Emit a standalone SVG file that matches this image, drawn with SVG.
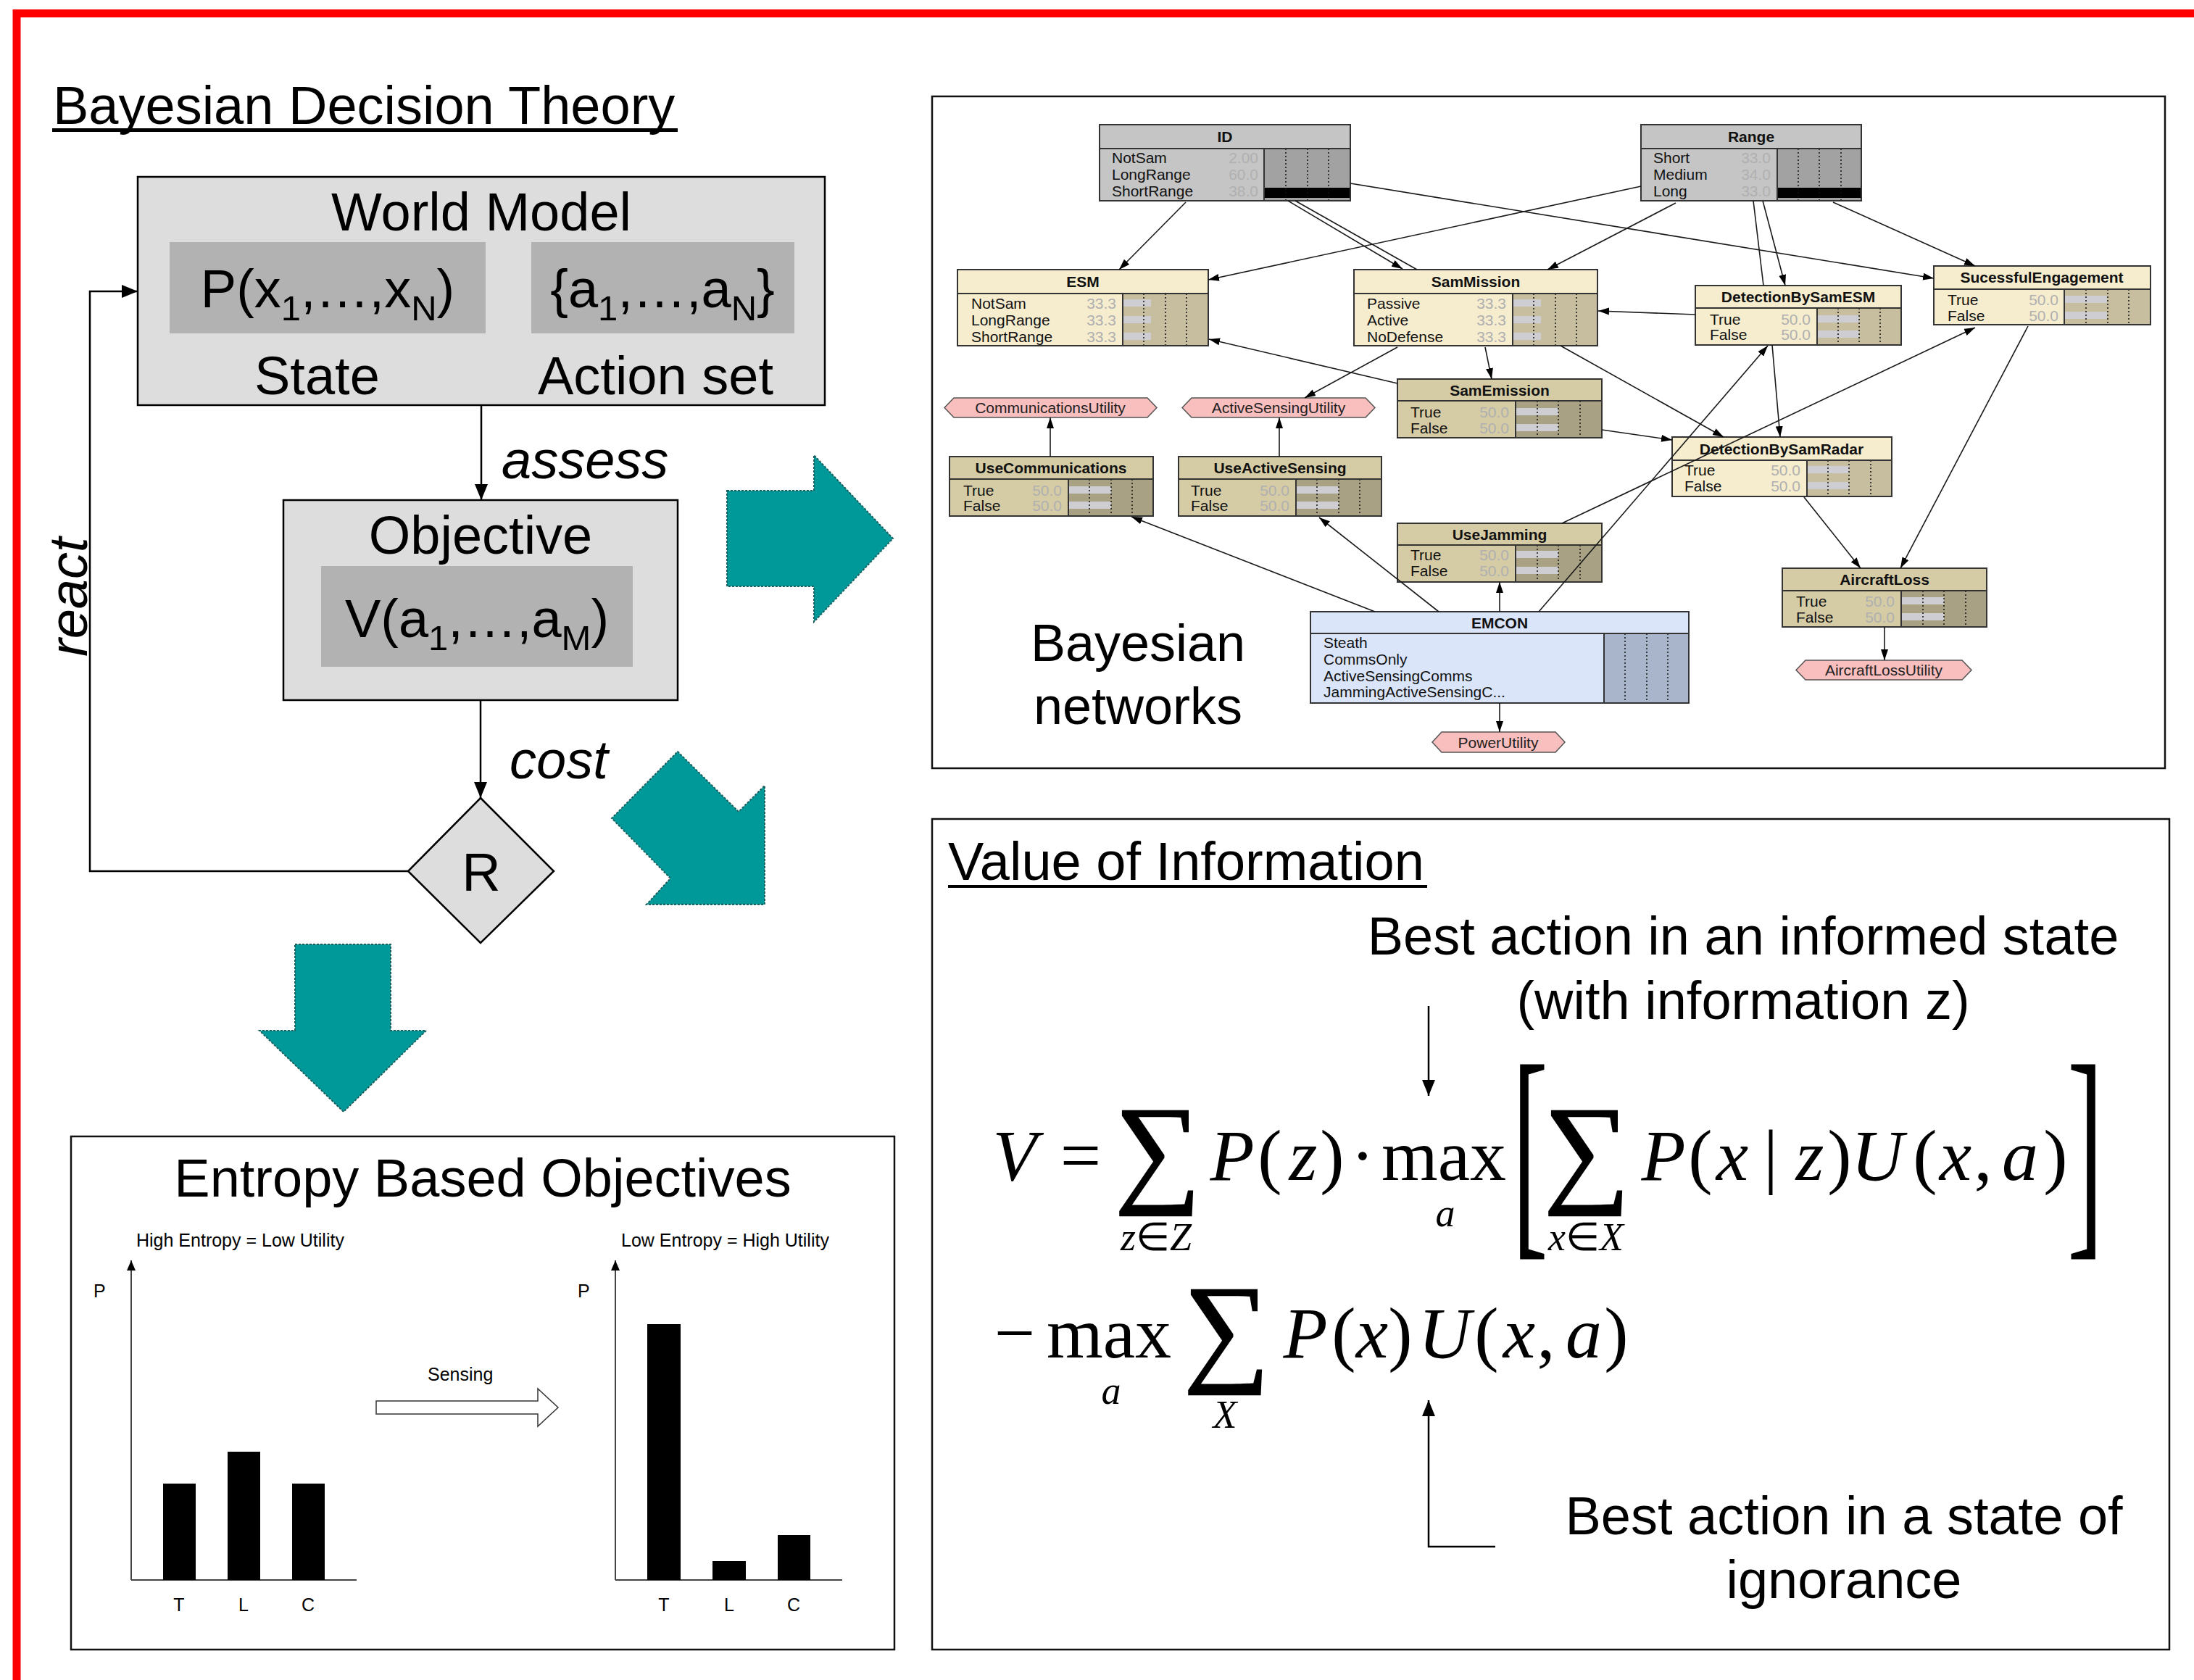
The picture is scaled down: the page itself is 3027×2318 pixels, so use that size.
<svg xmlns="http://www.w3.org/2000/svg" width="3027" height="2318" viewBox="0 0 3027 2318">
<defs>
<style>
.t74{font-family:"Liberation Sans",Arial,sans-serif;font-size:74px;fill:#000}
.it{font-style:italic}
.box{fill:#DDDDDD;stroke:#000;stroke-width:2.5}
.inner{fill:#B2B2B2}
.flow{fill:none;stroke:#000;stroke-width:2.5}
.teal{fill:#009999;stroke:#1b5e5e;stroke-width:2;stroke-dasharray:3 2}
.panel{fill:#fff;stroke:#111;stroke-width:2.5}
.s25{font-family:"Liberation Sans",Arial,sans-serif;font-size:25px;fill:#000}
.axis{stroke:#444;stroke-width:2;fill:none}
.nb{fill:none;stroke:#333;stroke-width:2}
.sep{stroke:#333;stroke-width:2}
.gry{fill:#C5C5C5}.bgry{fill:#A2A2A2}
.crm{fill:#F6EDCF}.bcrm{fill:#C6BE9E}
.khk{fill:#D5CCA6}.bkhk{fill:#A8A183}
.blu{fill:#DAE5F9}.bblu{fill:#A9B5CB}
.bar{fill:#CDCDD2}
.dot{stroke:#111;stroke-width:1.5;stroke-dasharray:2 3}
.nt{font-family:"Liberation Sans",Arial,sans-serif;font-weight:bold;font-size:21px;text-anchor:middle;fill:#111}
.rl{font-family:"Liberation Sans",Arial,sans-serif;font-size:21px;fill:#111}
.rv{font-family:"Liberation Sans",Arial,sans-serif;font-size:21px;fill:#B0B0B0;text-anchor:end}
.util{fill:#F9BEBE;stroke:#555;stroke-width:1.5}
.ut{font-family:"Liberation Sans",Arial,sans-serif;font-size:21px;text-anchor:middle;fill:#222}
.edge{stroke:#1a1a1a;stroke-width:1.6;fill:none}
.m{font-family:"Liberation Serif","Times New Roman",serif;font-size:100px;text-anchor:middle;fill:#000}
.mi{font-family:"Liberation Serif","Times New Roman",serif;font-size:100px;font-style:italic;text-anchor:middle;fill:#000}
.ms{font-family:"Liberation Serif","Times New Roman",serif;font-size:54px;font-style:italic;text-anchor:middle;fill:#000}
.sig{font-family:"Liberation Serif","Times New Roman",serif;font-size:167px;text-anchor:middle;fill:#000;stroke:#000;stroke-width:2}
.brk{font-family:"Liberation Serif","Times New Roman",serif;font-size:325px;text-anchor:middle;fill:#000}
</style>
<marker id="ahL" markerUnits="userSpaceOnUse" markerWidth="24" markerHeight="20" refX="22" refY="9" orient="auto"><path d="M0,0 L22,9 L0,18 z" fill="#000"/></marker>
<marker id="ahN" markerUnits="userSpaceOnUse" markerWidth="16" markerHeight="12" refX="15" refY="5" orient="auto"><path d="M0,0 L15,5 L0,10 z" fill="#000"/></marker>
<marker id="ahC" markerUnits="userSpaceOnUse" markerWidth="16" markerHeight="14" refX="14" refY="6" orient="auto"><path d="M0,0 L14,6 L0,12 z" fill="#000"/></marker>
</defs>
<rect width="3027" height="2318" fill="#fff"/>
<path d="M23,2318 V18.5 H3027" fill="none" stroke="#FF0000" stroke-width="11"/>

<!-- Left: Bayesian Decision Theory -->
<g id="title-bdt">
<text class="t74" x="73" y="171">Bayesian Decision Theory</text>
<rect x="72" y="177" width="863" height="5" fill="#000"/>
</g>
<g id="world-model">
<rect class="box" x="190" y="244" width="948" height="315"/>
<text class="t74" x="664" y="318" text-anchor="middle">World Model</text>
<rect class="inner" x="234" y="334" width="436" height="126"/>
<rect class="inner" x="733" y="334" width="363" height="126"/>
<text class="t74" x="452" y="424" text-anchor="middle">P(x<tspan font-size="49" dy="18">1</tspan><tspan dy="-18">,…,x</tspan><tspan font-size="49" dy="18">N</tspan><tspan dy="-18">)</tspan></text>
<text class="t74" x="914" y="424" text-anchor="middle">{a<tspan font-size="49" dy="18">1</tspan><tspan dy="-18">,…,a</tspan><tspan font-size="49" dy="18">N</tspan><tspan dy="-18">}</tspan></text>
<text class="t74" x="351" y="544">State</text>
<text class="t74" x="742" y="544">Action set</text>
</g>
<g id="objective">
<rect class="box" x="391" y="690" width="544" height="276"/>
<text class="t74" x="663" y="764" text-anchor="middle">Objective</text>
<rect class="inner" x="443" y="781" width="430" height="139"/>
<text class="t74" x="658" y="879" text-anchor="middle">V(a<tspan font-size="49" dy="18">1</tspan><tspan dy="-18">,…,a</tspan><tspan font-size="49" dy="18">M</tspan><tspan dy="-18">)</tspan></text>
</g>
<g id="reward">
<polygon points="663,1101 764,1202 663,1301 563,1202" fill="#DDDDDD" stroke="#000" stroke-width="2.5"/>
<text class="t74" x="664" y="1229" text-anchor="middle">R</text>
</g>
<g id="flow-connectors">
<line class="flow" x1="664" y1="559" x2="664" y2="690" marker-end="url(#ahL)"/>
<line class="flow" x1="663" y1="966" x2="663" y2="1101" marker-end="url(#ahL)"/>
<polyline class="flow" points="563,1202 124,1202 124,402 190,402" marker-end="url(#ahL)"/>
<text class="t74 it" x="692" y="660">assess</text>
<text class="t74 it" x="703" y="1074">cost</text>
<text class="t74 it" transform="translate(120,906) rotate(-90)">react</text>
</g>
<g id="teal-arrows">
<polygon class="teal" points="1003,677 1123,677 1123,628 1232,743 1123,858 1123,809 1003,809"/>
<polygon class="teal" points="935,1037 1019,1120 1055,1084 1055,1248 892,1248 925,1212 844,1129"/>
<polygon class="teal" points="407,1303 539,1303 539,1422 588,1422 474,1534 358,1422 407,1422"/>
</g>

<!-- Entropy panel -->
<g id="entropy-panel">
<rect class="panel" x="98" y="1568" width="1136" height="708"/>
<text class="t74" x="666" y="1651" text-anchor="middle">Entropy Based Objectives</text>
<text class="s25" x="188" y="1720">High Entropy = Low Utility</text>
<text class="s25" x="857" y="1720">Low Entropy = High Utility</text>
<text class="s25" x="129" y="1790">P</text>
<text class="s25" x="797" y="1790">P</text>
<line class="axis" x1="181" y1="2180" x2="181" y2="1739" marker-end="url(#ahC)"/>
<line class="axis" x1="181" y1="2180" x2="492" y2="2180"/>
<line class="axis" x1="849" y1="2180" x2="849" y2="1739" marker-end="url(#ahC)"/>
<line class="axis" x1="849" y1="2180" x2="1162" y2="2180"/>
<rect x="225" y="2047" width="45" height="133" fill="#000"/>
<rect x="314" y="2003" width="45" height="177" fill="#000"/>
<rect x="403" y="2047" width="45" height="133" fill="#000"/>
<rect x="893" y="1827" width="46" height="353" fill="#000"/>
<rect x="983" y="2154" width="46" height="26" fill="#000"/>
<rect x="1073" y="2118" width="45" height="62" fill="#000"/>
<text class="s25" x="247" y="2223" text-anchor="middle">T</text>
<text class="s25" x="336" y="2223" text-anchor="middle">L</text>
<text class="s25" x="425" y="2223" text-anchor="middle">C</text>
<text class="s25" x="916" y="2223" text-anchor="middle">T</text>
<text class="s25" x="1006" y="2223" text-anchor="middle">L</text>
<text class="s25" x="1095" y="2223" text-anchor="middle">C</text>
<polygon points="519,1933 742,1933 742,1916 770,1942 742,1968 742,1951 519,1951" fill="#fff" stroke="#333" stroke-width="1.5"/>
<text class="s25" x="590" y="1905">Sensing</text>
</g>

<!-- Bayesian network panel -->
<rect class="panel" x="1286" y="133" width="1701" height="927"/>
<text class="t74" x="1570" y="912" text-anchor="middle" style="font-size:72px">Bayesian</text>
<text class="t74" x="1570" y="999" text-anchor="middle" style="font-size:72px">networks</text>

<g id="n-ID">
<rect class="gry" x="1517" y="172" width="346" height="105"/>
<rect class="bgry" x="1744" y="205" width="119" height="72"/>
<rect x="1744" y="259" width="119" height="14" fill="#000"/>
<line class="dot" x1="1774" y1="205" x2="1774" y2="277"/><line class="dot" x1="1804" y1="205" x2="1804" y2="277"/><line class="dot" x1="1833" y1="205" x2="1833" y2="277"/>
<line class="sep" x1="1517" y1="205" x2="1863" y2="205"/><line class="sep" x1="1744" y1="205" x2="1744" y2="277"/>
<rect class="nb" x="1517" y="172" width="346" height="105"/>
<text class="nt" x="1690" y="196">ID</text>
<text class="rl" x="1534" y="225">NotSam</text><text class="rv" x="1736" y="225">2.00</text>
<text class="rl" x="1534" y="248">LongRange</text><text class="rv" x="1736" y="248">60.0</text>
<text class="rl" x="1534" y="271">ShortRange</text><text class="rv" x="1736" y="271">38.0</text>
</g>
<g id="n-Range">
<rect class="gry" x="2264" y="172" width="304" height="105"/>
<rect class="bgry" x="2452" y="205" width="116" height="72"/>
<rect x="2452" y="259" width="116" height="14" fill="#000"/>
<line class="dot" x1="2481" y1="205" x2="2481" y2="277"/><line class="dot" x1="2510" y1="205" x2="2510" y2="277"/><line class="dot" x1="2540" y1="205" x2="2540" y2="277"/>
<line class="sep" x1="2264" y1="205" x2="2568" y2="205"/><line class="sep" x1="2452" y1="205" x2="2452" y2="277"/>
<rect class="nb" x="2264" y="172" width="304" height="105"/>
<text class="nt" x="2416" y="196">Range</text>
<text class="rl" x="2281" y="225">Short</text><text class="rv" x="2443" y="225">33.0</text>
<text class="rl" x="2281" y="248">Medium</text><text class="rv" x="2443" y="248">34.0</text>
<text class="rl" x="2281" y="271">Long</text><text class="rv" x="2443" y="271">33.0</text>
</g>
<g id="n-ESM">
<rect class="crm" x="1321" y="372" width="346" height="105"/>
<rect class="bcrm" x="1549" y="405" width="118" height="72"/>
<rect class="bar" x="1549" y="413" width="39" height="10"/><rect class="bar" x="1549" y="436" width="39" height="10"/><rect class="bar" x="1549" y="459" width="39" height="10"/>
<line class="dot" x1="1578" y1="405" x2="1578" y2="477"/><line class="dot" x1="1608" y1="405" x2="1608" y2="477"/><line class="dot" x1="1637" y1="405" x2="1637" y2="477"/>
<line class="sep" x1="1321" y1="405" x2="1667" y2="405"/><line class="sep" x1="1549" y1="405" x2="1549" y2="477"/>
<rect class="nb" x="1321" y="372" width="346" height="105"/>
<text class="nt" x="1494" y="396">ESM</text>
<text class="rl" x="1340" y="426">NotSam</text><text class="rv" x="1540" y="426">33.3</text>
<text class="rl" x="1340" y="449">LongRange</text><text class="rv" x="1540" y="449">33.3</text>
<text class="rl" x="1340" y="472">ShortRange</text><text class="rv" x="1540" y="472">33.3</text>
</g>
<g id="n-SamMission">
<rect class="crm" x="1868" y="372" width="336" height="105"/>
<rect class="bcrm" x="2087" y="405" width="117" height="72"/>
<rect class="bar" x="2087" y="413" width="39" height="10"/><rect class="bar" x="2087" y="436" width="39" height="10"/><rect class="bar" x="2087" y="459" width="39" height="10"/>
<line class="dot" x1="2116" y1="405" x2="2116" y2="477"/><line class="dot" x1="2146" y1="405" x2="2146" y2="477"/><line class="dot" x1="2175" y1="405" x2="2175" y2="477"/>
<line class="sep" x1="1868" y1="405" x2="2204" y2="405"/><line class="sep" x1="2087" y1="405" x2="2087" y2="477"/>
<rect class="nb" x="1868" y="372" width="336" height="105"/>
<text class="nt" x="2036" y="396">SamMission</text>
<text class="rl" x="1886" y="426">Passive</text><text class="rv" x="2078" y="426">33.3</text>
<text class="rl" x="1886" y="449">Active</text><text class="rv" x="2078" y="449">33.3</text>
<text class="rl" x="1886" y="472">NoDefense</text><text class="rv" x="2078" y="472">33.3</text>
</g>
<g id="n-DetectionBySamESM">
<rect class="crm" x="2339" y="394" width="284" height="82"/>
<rect class="bcrm" x="2507" y="425" width="116" height="51"/>
<rect class="bar" x="2507" y="435" width="58" height="10"/><rect class="bar" x="2507" y="456" width="58" height="10"/>
<line class="dot" x1="2536" y1="425" x2="2536" y2="476"/><line class="dot" x1="2565" y1="425" x2="2565" y2="476"/><line class="dot" x1="2594" y1="425" x2="2594" y2="476"/>
<line class="sep" x1="2339" y1="425" x2="2623" y2="425"/><line class="sep" x1="2507" y1="425" x2="2507" y2="476"/>
<rect class="nb" x="2339" y="394" width="284" height="82"/>
<text class="nt" x="2481" y="417">DetectionBySamESM</text>
<text class="rl" x="2359" y="448">True</text><text class="rv" x="2498" y="448">50.0</text>
<text class="rl" x="2359" y="469">False</text><text class="rv" x="2498" y="469">50.0</text>
</g>
<g id="n-SucessfulEngagement">
<rect class="crm" x="2668" y="367" width="299" height="81"/>
<rect class="bcrm" x="2848" y="399" width="119" height="49"/>
<rect class="bar" x="2848" y="408" width="59" height="10"/><rect class="bar" x="2848" y="430" width="59" height="10"/>
<line class="dot" x1="2878" y1="399" x2="2878" y2="448"/><line class="dot" x1="2908" y1="399" x2="2908" y2="448"/><line class="dot" x1="2937" y1="399" x2="2937" y2="448"/>
<line class="sep" x1="2668" y1="399" x2="2967" y2="399"/><line class="sep" x1="2848" y1="399" x2="2848" y2="448"/>
<rect class="nb" x="2668" y="367" width="299" height="81"/>
<text class="nt" x="2817" y="390">SucessfulEngagement</text>
<text class="rl" x="2687" y="421">True</text><text class="rv" x="2840" y="421">50.0</text>
<text class="rl" x="2687" y="443">False</text><text class="rv" x="2840" y="443">50.0</text>
</g>
<g id="n-SamEmission">
<rect class="khk" x="1928" y="523" width="282" height="81"/>
<rect class="bkhk" x="2091" y="553" width="119" height="51"/>
<rect class="bar" x="2091" y="563" width="59" height="10"/><rect class="bar" x="2091" y="585" width="59" height="10"/>
<line class="dot" x1="2121" y1="553" x2="2121" y2="604"/><line class="dot" x1="2150" y1="553" x2="2150" y2="604"/><line class="dot" x1="2180" y1="553" x2="2180" y2="604"/>
<line class="sep" x1="1928" y1="553" x2="2210" y2="553"/><line class="sep" x1="2091" y1="553" x2="2091" y2="604"/>
<rect class="nb" x="1928" y="523" width="282" height="81"/>
<text class="nt" x="2069" y="546">SamEmission</text>
<text class="rl" x="1946" y="576">True</text><text class="rv" x="2082" y="576">50.0</text>
<text class="rl" x="1946" y="598">False</text><text class="rv" x="2082" y="598">50.0</text>
</g>
<g id="n-DetectionBySamRadar">
<rect class="crm" x="2307" y="603" width="303" height="82"/>
<rect class="bcrm" x="2493" y="635" width="117" height="50"/>
<rect class="bar" x="2493" y="643" width="58" height="10"/><rect class="bar" x="2493" y="665" width="58" height="10"/>
<line class="dot" x1="2522" y1="635" x2="2522" y2="685"/><line class="dot" x1="2551" y1="635" x2="2551" y2="685"/><line class="dot" x1="2581" y1="635" x2="2581" y2="685"/>
<line class="sep" x1="2307" y1="635" x2="2610" y2="635"/><line class="sep" x1="2493" y1="635" x2="2493" y2="685"/>
<rect class="nb" x="2307" y="603" width="303" height="82"/>
<text class="nt" x="2458" y="627">DetectionBySamRadar</text>
<text class="rl" x="2324" y="656">True</text><text class="rv" x="2484" y="656">50.0</text>
<text class="rl" x="2324" y="678">False</text><text class="rv" x="2484" y="678">50.0</text>
</g>
<g id="n-UseCommunications">
<rect class="khk" x="1310" y="630" width="281" height="82"/>
<rect class="bkhk" x="1474" y="661" width="117" height="51"/>
<rect class="bar" x="1474" y="671" width="59" height="10"/><rect class="bar" x="1474" y="692" width="59" height="10"/>
<line class="dot" x1="1503" y1="661" x2="1503" y2="712"/><line class="dot" x1="1533" y1="661" x2="1533" y2="712"/><line class="dot" x1="1562" y1="661" x2="1562" y2="712"/>
<line class="sep" x1="1310" y1="661" x2="1591" y2="661"/><line class="sep" x1="1474" y1="661" x2="1474" y2="712"/>
<rect class="nb" x="1310" y="630" width="281" height="82"/>
<text class="nt" x="1450" y="653">UseCommunications</text>
<text class="rl" x="1329" y="684">True</text><text class="rv" x="1465" y="684">50.0</text>
<text class="rl" x="1329" y="705">False</text><text class="rv" x="1465" y="705">50.0</text>
</g>
<g id="n-UseActiveSensing">
<rect class="khk" x="1626" y="630" width="280" height="82"/>
<rect class="bkhk" x="1788" y="661" width="118" height="51"/>
<rect class="bar" x="1788" y="671" width="59" height="10"/><rect class="bar" x="1788" y="692" width="59" height="10"/>
<line class="dot" x1="1817" y1="661" x2="1817" y2="712"/><line class="dot" x1="1847" y1="661" x2="1847" y2="712"/><line class="dot" x1="1876" y1="661" x2="1876" y2="712"/>
<line class="sep" x1="1626" y1="661" x2="1906" y2="661"/><line class="sep" x1="1788" y1="661" x2="1788" y2="712"/>
<rect class="nb" x="1626" y="630" width="280" height="82"/>
<text class="nt" x="1766" y="653">UseActiveSensing</text>
<text class="rl" x="1643" y="684">True</text><text class="rv" x="1779" y="684">50.0</text>
<text class="rl" x="1643" y="705">False</text><text class="rv" x="1779" y="705">50.0</text>
</g>
<g id="n-UseJamming">
<rect class="khk" x="1928" y="722" width="282" height="81"/>
<rect class="bkhk" x="2091" y="752" width="119" height="51"/>
<rect class="bar" x="2091" y="760" width="59" height="10"/><rect class="bar" x="2091" y="782" width="59" height="10"/>
<line class="dot" x1="2121" y1="752" x2="2121" y2="803"/><line class="dot" x1="2150" y1="752" x2="2150" y2="803"/><line class="dot" x1="2180" y1="752" x2="2180" y2="803"/>
<line class="sep" x1="1928" y1="752" x2="2210" y2="752"/><line class="sep" x1="2091" y1="752" x2="2091" y2="803"/>
<rect class="nb" x="1928" y="722" width="282" height="81"/>
<text class="nt" x="2069" y="745">UseJamming</text>
<text class="rl" x="1946" y="773">True</text><text class="rv" x="2082" y="773">50.0</text>
<text class="rl" x="1946" y="795">False</text><text class="rv" x="2082" y="795">50.0</text>
</g>
<g id="n-AircraftLoss">
<rect class="khk" x="2459" y="784" width="282" height="81"/>
<rect class="bkhk" x="2623" y="815" width="118" height="50"/>
<rect class="bar" x="2623" y="824" width="59" height="10"/><rect class="bar" x="2623" y="846" width="59" height="10"/>
<line class="dot" x1="2653" y1="815" x2="2653" y2="865"/><line class="dot" x1="2682" y1="815" x2="2682" y2="865"/><line class="dot" x1="2712" y1="815" x2="2712" y2="865"/>
<line class="sep" x1="2459" y1="815" x2="2741" y2="815"/><line class="sep" x1="2623" y1="815" x2="2623" y2="865"/>
<rect class="nb" x="2459" y="784" width="282" height="81"/>
<text class="nt" x="2600" y="807">AircraftLoss</text>
<text class="rl" x="2478" y="837">True</text><text class="rv" x="2614" y="837">50.0</text>
<text class="rl" x="2478" y="859">False</text><text class="rv" x="2614" y="859">50.0</text>
</g>
<g id="n-EMCON">
<rect class="blu" x="1808" y="844" width="522" height="126"/>
<rect class="bblu" x="2213" y="874" width="117" height="96"/>
<line class="dot" x1="2242" y1="874" x2="2242" y2="970"/><line class="dot" x1="2272" y1="874" x2="2272" y2="970"/><line class="dot" x1="2301" y1="874" x2="2301" y2="970"/>
<line class="sep" x1="1808" y1="874" x2="2330" y2="874"/><line class="sep" x1="2213" y1="874" x2="2213" y2="970"/>
<rect class="nb" x="1808" y="844" width="522" height="126"/>
<text class="nt" x="2069" y="867">EMCON</text>
<text class="rl" x="1826" y="894">Steath</text>
<text class="rl" x="1826" y="917">CommsOnly</text>
<text class="rl" x="1826" y="940">ActiveSensingComms</text>
<text class="rl" x="1826" y="962">JammingActiveSensingC...</text>
</g>
<g id="u-CommunicationsUtility">
<polygon class="util" points="1303,562.5 1316,549 1583,549 1596,562.5 1583,576 1316,576"/>
<text class="ut" x="1449" y="570">CommunicationsUtility</text>
</g>
<g id="u-ActiveSensingUtility">
<polygon class="util" points="1631,562.5 1644,549 1884,549 1897,562.5 1884,576 1644,576"/>
<text class="ut" x="1764" y="570">ActiveSensingUtility</text>
</g>
<g id="u-PowerUtility">
<polygon class="util" points="1976,1024 1989,1010 2146,1010 2159,1024 2146,1038 1989,1038"/>
<text class="ut" x="2067" y="1032">PowerUtility</text>
</g>
<g id="u-AircraftLossUtility">
<polygon class="util" points="2478,924.5 2491,911 2707,911 2720,924.5 2707,938 2491,938"/>
<text class="ut" x="2599" y="932">AircraftLossUtility</text>
</g>

<g id="bn-edges">
<line class="edge" x1="1636" y1="279" x2="1544" y2="372" marker-end="url(#ahN)"/>
<line class="edge" x1="1777" y1="277" x2="1935" y2="371" marker-end="url(#ahN)"/>
<line class="edge" x1="1787" y1="277" x2="1955" y2="372"/>
<line class="edge" x1="1863" y1="253" x2="2668" y2="384" marker-end="url(#ahN)"/>
<line class="edge" x1="2264" y1="257" x2="1667" y2="386" marker-end="url(#ahN)"/>
<line class="edge" x1="2312" y1="280" x2="2135" y2="372" marker-end="url(#ahN)"/>
<line class="edge" x1="2432" y1="277" x2="2463" y2="394" marker-end="url(#ahN)"/>
<line class="edge" x1="2419" y1="277" x2="2433" y2="394"/>
<line class="edge" x1="2445" y1="476" x2="2456" y2="603" marker-end="url(#ahN)"/>
<line class="edge" x1="2529" y1="279" x2="2725" y2="367" marker-end="url(#ahN)"/>
<line class="edge" x1="2339" y1="434" x2="2205" y2="429" marker-end="url(#ahN)"/>
<line class="edge" x1="1928" y1="529" x2="1668" y2="468" marker-end="url(#ahN)"/>
<line class="edge" x1="1928" y1="479" x2="1800" y2="549" marker-end="url(#ahN)"/>
<line class="edge" x1="2049" y1="479" x2="2058" y2="523" marker-end="url(#ahN)"/>
<line class="edge" x1="2153" y1="477" x2="2378" y2="603" marker-end="url(#ahN)"/>
<line class="edge" x1="2210" y1="593" x2="2307" y2="607" marker-end="url(#ahN)"/>
<line class="edge" x1="1449" y1="630" x2="1449" y2="576" marker-end="url(#ahN)"/>
<line class="edge" x1="1765" y1="630" x2="1765" y2="576" marker-end="url(#ahN)"/>
<line class="edge" x1="1897" y1="844" x2="1561" y2="713" marker-end="url(#ahN)"/>
<line class="edge" x1="1985" y1="844" x2="1820" y2="714" marker-end="url(#ahN)"/>
<line class="edge" x1="2069" y1="844" x2="2069" y2="803" marker-end="url(#ahN)"/>
<line class="edge" x1="2123" y1="844" x2="2439" y2="477" marker-end="url(#ahN)"/>
<line class="edge" x1="2155" y1="722" x2="2725" y2="452" marker-end="url(#ahN)"/>
<line class="edge" x1="2798" y1="450" x2="2622" y2="784" marker-end="url(#ahN)"/>
<line class="edge" x1="2489" y1="686" x2="2567" y2="784" marker-end="url(#ahN)"/>
<line class="edge" x1="2600" y1="865" x2="2600" y2="911" marker-end="url(#ahN)"/>
<line class="edge" x1="2069" y1="970" x2="2069" y2="1010" marker-end="url(#ahN)"/>
</g>

<!-- Value of Information -->
<g id="voi-panel">
<rect class="panel" x="1286" y="1130" width="1707" height="1146"/>
<text class="t74" x="1308" y="1214">Value of Information</text>
<rect x="1308" y="1221" width="661" height="4" fill="#000"/>
<text class="t74" x="2405" y="1317" text-anchor="middle">Best action in an informed state</text>
<text class="t74" x="2405" y="1406" text-anchor="middle">(with information z)</text>
<text class="t74" x="2544" y="2117" text-anchor="middle">Best action in a state of</text>
<text class="t74" x="2544" y="2205" text-anchor="middle">ignorance</text>
</g>
<g id="voi-arrows">
<line class="flow" x1="1971" y1="1388" x2="1971" y2="1512" stroke-width="2" marker-end="url(#ahL)"/>
<polyline class="flow" points="2063,2134 1971,2134 1971,1932" stroke-width="2" marker-end="url(#ahL)"/>
</g>
<g id="formula">
<text class="mi" x="1400" y="1628">V</text>
<text class="m" x="1491" y="1628">=</text>
<text class="sig" x="1597" y="1642">∑</text>
<text class="ms" x="1595" y="1725">z<tspan font-style="normal">∈</tspan>Z</text>
<text class="mi" x="1700" y="1628">P</text>
<text class="m" x="1752" y="1628">(</text>
<text class="mi" x="1798" y="1628">z</text>
<text class="m" x="1838" y="1628">)</text>
<text class="m" x="1880" y="1628">·</text>
<text class="m" x="1992" y="1628">max</text>
<text class="ms" x="1994" y="1692">a</text>
<text class="brk" transform="translate(2111,1694) scale(0.46,1)">[</text>
<text class="sig" x="2189" y="1642">∑</text>
<text class="ms" x="2188" y="1725">x<tspan font-style="normal">∈</tspan>X</text>
<text class="mi" x="2295" y="1628">P</text>
<text class="m" x="2346" y="1628">(</text>
<text class="mi" x="2390" y="1628">x</text>
<text class="m" x="2443" y="1628">|</text>
<text class="mi" x="2497" y="1628">z</text>
<text class="m" x="2538" y="1628">)</text>
<text class="mi" x="2590" y="1628">U</text>
<text class="m" x="2656" y="1628">(</text>
<text class="mi" x="2698" y="1628">x</text>
<text class="m" x="2736" y="1628">,</text>
<text class="mi" x="2787" y="1628">a</text>
<text class="m" x="2836" y="1628">)</text>
<text class="brk" transform="translate(2877,1694) scale(0.46,1)">]</text>
<text class="m" x="1400" y="1873">−</text>
<text class="m" x="1530" y="1873">max</text>
<text class="ms" x="1533" y="1937">a</text>
<text class="sig" x="1692" y="1889">∑</text>
<text class="ms" x="1690" y="1970">X</text>
<text class="mi" x="1801" y="1873">P</text>
<text class="m" x="1854" y="1873">(</text>
<text class="mi" x="1893" y="1873">x</text>
<text class="m" x="1932" y="1873">)</text>
<text class="mi" x="1993" y="1873">U</text>
<text class="m" x="2051" y="1873">(</text>
<text class="mi" x="2096" y="1873">x</text>
<text class="m" x="2133" y="1873">,</text>
<text class="mi" x="2185" y="1873">a</text>
<text class="m" x="2230" y="1873">)</text>
</g>
</svg>
